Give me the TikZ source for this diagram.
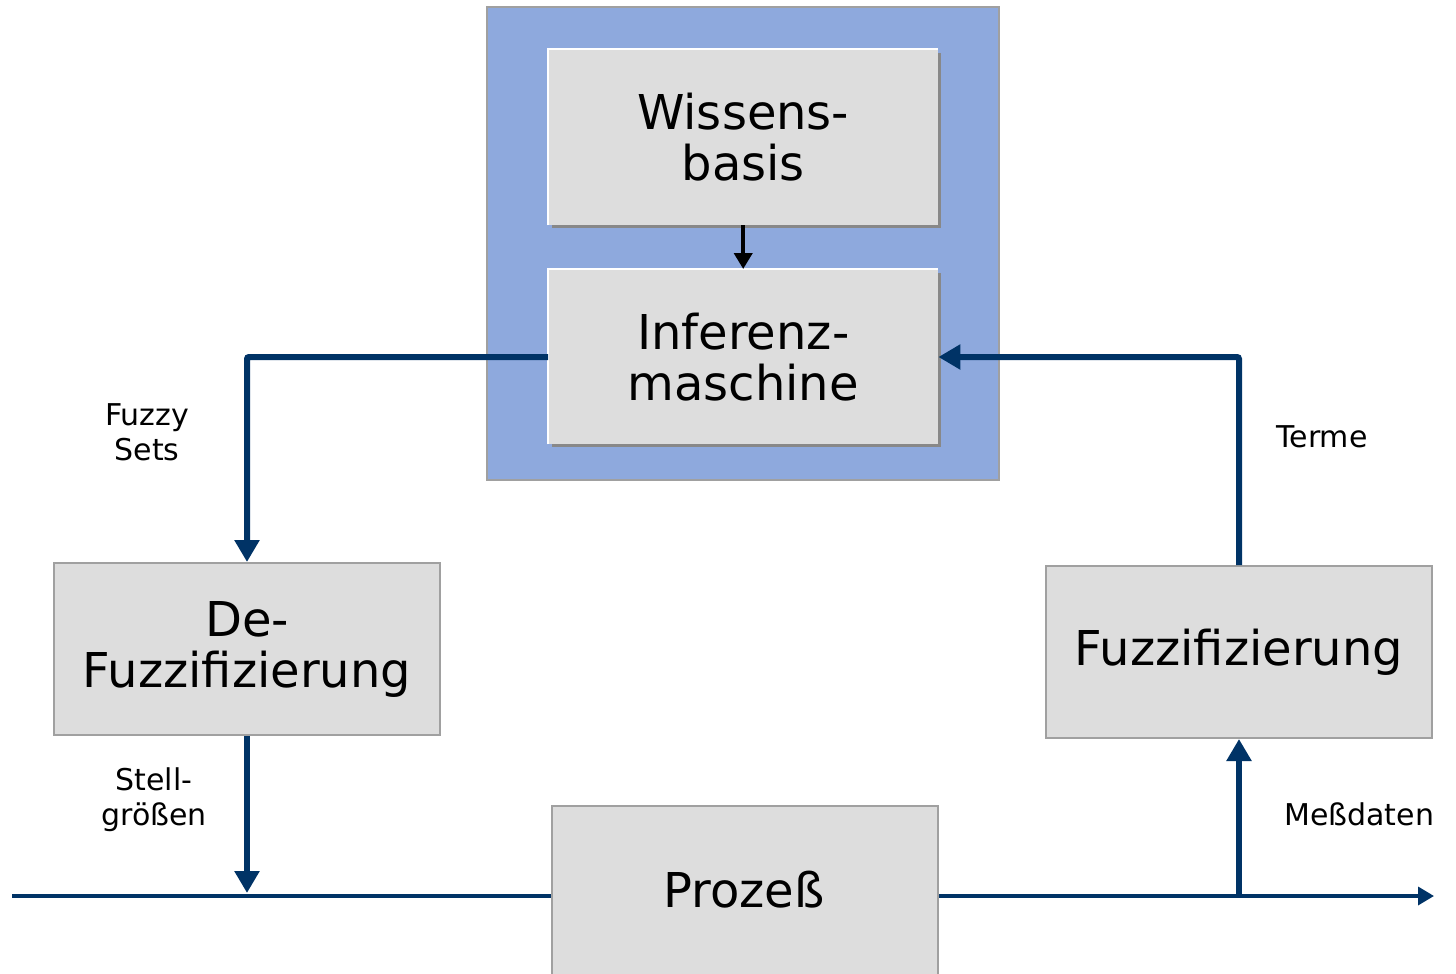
\documentclass[tikz,border=0pt]{standalone}
\usepackage{fontspec}
\setmainfont{DejaVu Sans}
\usetikzlibrary{arrows.meta}
\definecolor{navy}{HTML}{003366}
\definecolor{boxgray}{HTML}{DDDDDD}
\definecolor{edgegray}{HTML}{A0A0A0}
\definecolor{bluebg}{HTML}{8EA9DD}
\definecolor{shadowgray}{HTML}{888888}
\tikzset{
  graybox/.style={draw=edgegray, line width=2pt, fill=boxgray, inner sep=0pt, align=center,
    font=\fontsize{48}{51}\selectfont},
  raisedbox/.style={fill=boxgray, inner sep=0pt, align=center, font=\fontsize{48}{51}\selectfont},
  flow/.style={navy, line width=6pt, -{Triangle[width=24pt,length=22pt]}},
  thinflow/.style={navy, line width=3.5pt},
  lbl/.style={align=center, font=\fontsize{30}{35}\selectfont, inner sep=0pt}
}
\begin{document}
\begin{tikzpicture}[x=1pt,y=-1pt]
\useasboundingbox (0,0) rectangle (1456,974);
% blue background
\filldraw[fill=bluebg, draw=edgegray, line width=2pt] (487,7) rectangle (999,480);
% shadows
\fill[shadowgray] (552,53) rectangle (941,228);
\fill[shadowgray] (552,273) rectangle (941,447);
% raised boxes
\node[raisedbox, minimum width=390pt, minimum height=176pt, anchor=north west] (wb) at (548,49) {Wissens-\\basis};
\node[raisedbox, minimum width=390pt, minimum height=175pt, anchor=north west] (im) at (548,269) {Inferenz-\\maschine};
\draw[white, line width=2.5pt] (wb.south west) -- (wb.north west) -- (wb.north east);
\draw[white, line width=2.5pt] (im.south west) -- (im.north west) -- (im.north east);
% other boxes
\node[graybox, minimum width=386pt, minimum height=172pt, anchor=north west] (defz) at (53,562) {De-\\Fuzzifizierung};
\node[graybox, minimum width=386pt, minimum height=172pt, anchor=north west] (fz) at (1045,565) {Fuzzifizierung};
\node[graybox, minimum width=386pt, minimum height=190pt, anchor=north west] (pz) at (551,805) {};
\node[font=\fontsize{48}{51}\selectfont, inner sep=0pt] (pzt) at (744,890) {Prozeß};
% coordinates
\coordinate (lin) at (12,896);
\coordinate (lout) at (1434,896);
\coordinate (cl) at (247,357);
\coordinate (cr) at (1239,357);
\coordinate (jl) at (247,893);
\coordinate (jr) at (1239,896);
% process line
\draw[thinflow] (lin) -- (pz.west |- lin);
\draw[thinflow, -{Triangle[width=18pt,length=16pt]}] (pz.east |- lout) -- (lout);
% knowledge -> inference
\draw[black, line width=4pt, -{Triangle[width=18pt,length=16pt]}] (wb.south) -- (im.north);
% inference -> defuzz
\draw[flow, rounded corners=2pt] (im.west |- cl) -- (cl) -- (defz.north);
% fuzz -> inference
\draw[flow, rounded corners=2pt] (fz.north) -- (cr) -- (im.east |- cr);
% defuzz -> process line
\draw[flow] (defz.south) -- (jl);
% process line -> fuzz
\draw[flow] (jr) -- (fz.south);
% labels
\node[lbl] (l1) at (147,432) {Fuzzy\\Sets};
\node[lbl] (l2) at (154,800) {Stell-\\größen};
\node[lbl] (l3) at (1322,437) {Terme};
\node[lbl, anchor=west] (l4) at (1284,814) {Meßdaten};
\end{tikzpicture}
\end{document}
